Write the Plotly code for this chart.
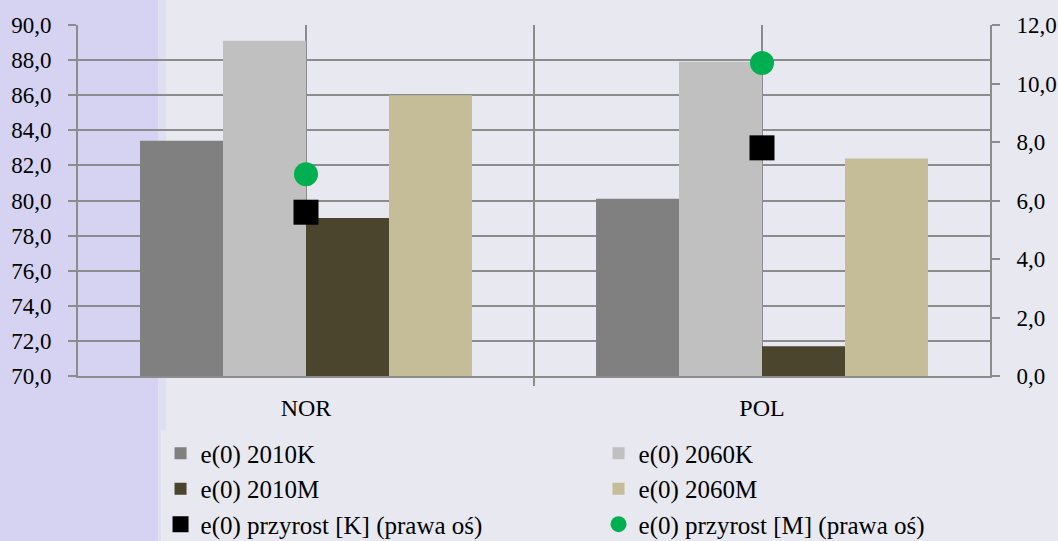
import plotly.graph_objects as go

countries = ["NOR", "POL"]
e2010K = [83.4, 80.1]
e2060K = [89.1, 87.9]
e2010M = [79.0, 71.7]
e2060M = [86.0, 82.4]
przyrostK = [5.6, 7.8]
przyrostM = [6.9, 10.7]

left_ticks = [70, 72, 74, 76, 78, 80, 82, 84, 86, 88, 90]
left_labels = ["70,0", "72,0", "74,0", "76,0", "78,0", "80,0", "82,0", "84,0", "86,0", "88,0", "90,0"]
right_ticks = [0, 2, 4, 6, 8, 10, 12]
right_labels = ["0,0", "2,0", "4,0", "6,0", "8,0", "10,0", "12,0"]

xpos = [0, 1]
FONT = "Liberation Serif"
GRID = "#8c8c8c"

fig = go.Figure()
bar_series = [
    ("e(0) 2010K", e2010K, "#808080"),
    ("e(0) 2060K", e2060K, "#c0c0c0"),
    ("e(0) 2010M", e2010M, "#4a452c"),
    ("e(0) 2060M", e2060M, "#c4bd97"),
]
for name, vals, col in bar_series:
    fig.add_trace(go.Bar(x=xpos, y=[v - 70 for v in vals], base=70, name=name,
                         marker=dict(color=col, line=dict(width=0))))

fig.add_trace(go.Scatter(x=xpos, y=przyrostK, name="e(0) przyrost [K] (prawa oś)",
                         mode="markers", yaxis="y2",
                         marker=dict(symbol="square", size=25, color="#000000")))
fig.add_trace(go.Scatter(x=xpos, y=przyrostM, name="e(0) przyrost [M] (prawa oś)",
                         mode="markers", yaxis="y2",
                         marker=dict(symbol="circle", size=24, color="#00b050")))

fig.update_layout(
    width=1058, height=541,
    margin=dict(l=78, r=68, t=25, b=165, autoexpand=False),
    paper_bgcolor="#e8e8f1",
    plot_bgcolor="rgba(0,0,0,0)",
    font=dict(family=FONT, color="black"),
    barmode="group",
    bargap=0.272,
    bargroupgap=0,
    showlegend=True,
    legend=dict(orientation="h", x=0.0905, y=-0.155, xanchor="left", yanchor="top",
                entrywidth=393, entrywidthmode="pixels",
                font=dict(family=FONT, size=25)),
    xaxis=dict(range=[-0.5, 1.5], tickvals=[0, 0.5, 1], ticktext=["NOR", "", "POL"],
               showgrid=True, gridcolor=GRID, gridwidth=2,
               showline=True, linecolor=GRID, linewidth=2,
               ticks="", zeroline=False, ticklabelstandoff=9,
               tickfont=dict(family=FONT, size=24),
               minor=dict(tickvals=[0.5], ticks="outside", ticklen=8, tickwidth=2,
                          tickcolor=GRID, showgrid=False)),
    yaxis=dict(range=[70, 90], tickvals=left_ticks, ticktext=left_labels,
               showgrid=True, gridcolor=GRID, gridwidth=2,
               showline=True, linecolor=GRID, linewidth=2,
               ticks="outside", ticklen=8, tickwidth=2, tickcolor=GRID,
               zeroline=False, ticklabelstandoff=12,
               tickfont=dict(family=FONT, size=23)),
    yaxis2=dict(range=[0, 12], tickvals=right_ticks, ticktext=right_labels,
                overlaying="y", side="right", showgrid=False,
                showline=True, linecolor=GRID, linewidth=2,
                ticks="outside", ticklen=8, tickwidth=2, tickcolor=GRID,
                zeroline=False, ticklabelstandoff=12,
                tickfont=dict(family=FONT, size=23)),
    shapes=[
        dict(type="rect", xref="paper", yref="paper", x0=-78/912, x1=(158-78)/912,
             y0=-165/351, y1=1 + 25/351, fillcolor="#d5d3f1", line=dict(width=0), layer="below"),
        dict(type="rect", xref="paper", yref="paper", x0=(158-78)/912, x1=(166-78)/912,
             y0=-165/351, y1=1 + 25/351, fillcolor="#dfdff2", line=dict(width=0), layer="below"),
    ],
)

fig.write_html("out.html")
